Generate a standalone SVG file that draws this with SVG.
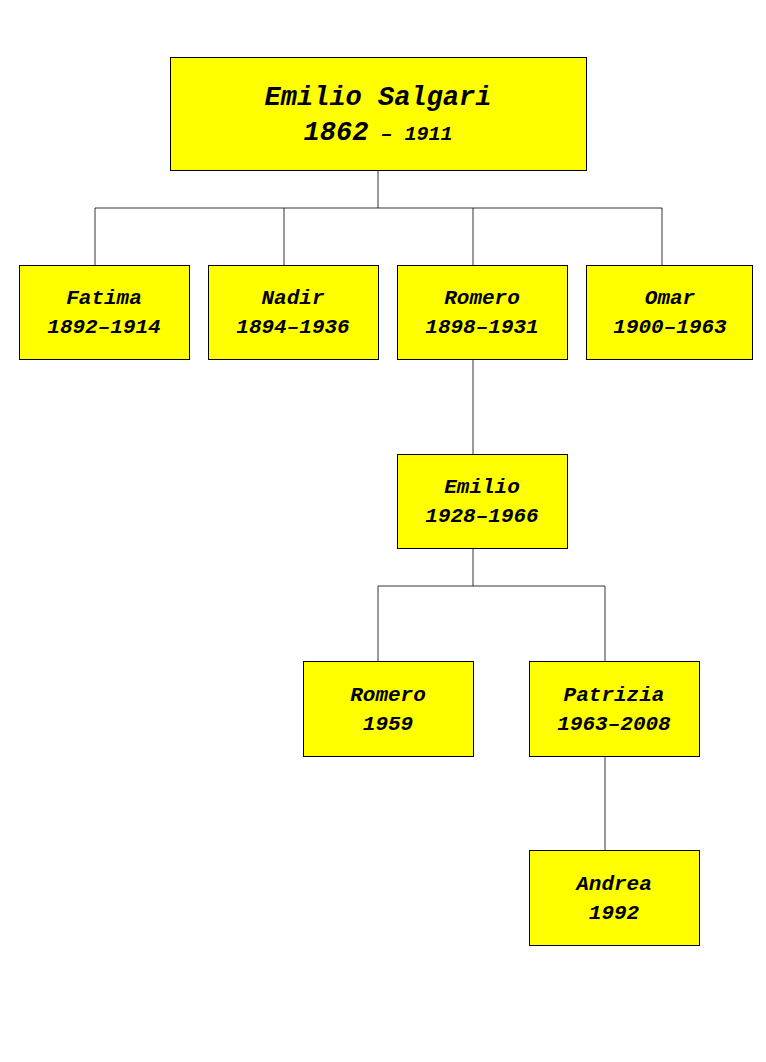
<svg xmlns="http://www.w3.org/2000/svg" width="766" height="1062" viewBox="0 0 766 1062">
<style>
.b{fill:#ffff00;stroke:#000;stroke-width:1}
text{font-family:"Liberation Mono","DejaVu Sans Mono",monospace;font-weight:bold;font-style:italic;text-anchor:middle;fill:#000}
.t{font-size:21px}
.c line{stroke:#000;stroke-width:0.8}
</style>
<rect width="766" height="1062" fill="#fff"/>
<g class="c">
<line x1="378" y1="170" x2="378" y2="208"/>
<line x1="95" y1="208" x2="662" y2="208"/>
<line x1="95" y1="208" x2="95" y2="265"/>
<line x1="284" y1="208" x2="284" y2="265"/>
<line x1="473" y1="208" x2="473" y2="265"/>
<line x1="662" y1="208" x2="662" y2="265"/>
<line x1="473" y1="359" x2="473" y2="454"/>
<line x1="473" y1="548" x2="473" y2="586"/>
<line x1="378" y1="586" x2="605" y2="586"/>
<line x1="378" y1="586" x2="378" y2="661"/>
<line x1="605" y1="586" x2="605" y2="661"/>
<line x1="605" y1="756" x2="605" y2="850"/>
</g>
<g id="root"><rect class="b" x="170.5" y="57.5" width="416" height="113"/>
<text x="378" y="105" font-size="27">Emilio Salgari</text>
<text x="378" y="140"><tspan font-size="27">1862</tspan><tspan font-size="20"> – 1911</tspan></text></g>
<g id="fatima"><rect class="b" x="19.5" y="265.5" width="170" height="94"/><text class="t" x="104" y="304">Fatima</text><text class="t" x="104" y="333">1892–1914</text></g>
<g id="nadir"><rect class="b" x="208.5" y="265.5" width="170" height="94"/><text class="t" x="293" y="304">Nadir</text><text class="t" x="293" y="333">1894–1936</text></g>
<g id="romero1"><rect class="b" x="397.5" y="265.5" width="170" height="94"/><text class="t" x="482" y="304">Romero</text><text class="t" x="482" y="333">1898–1931</text></g>
<g id="omar"><rect class="b" x="586.5" y="265.5" width="166" height="94"/><text class="t" x="670" y="304">Omar</text><text class="t" x="670" y="333">1900–1963</text></g>
<g id="emilio"><rect class="b" x="397.5" y="454.5" width="170" height="94"/><text class="t" x="482" y="493">Emilio</text><text class="t" x="482" y="522">1928–1966</text></g>
<g id="romero2"><rect class="b" x="303.5" y="661.5" width="170" height="95"/><text class="t" x="388" y="701">Romero</text><text class="t" x="388" y="730">1959</text></g>
<g id="patrizia"><rect class="b" x="529.5" y="661.5" width="170" height="95"/><text class="t" x="614" y="701">Patrizia</text><text class="t" x="614" y="730">1963–2008</text></g>
<g id="andrea"><rect class="b" x="529.5" y="850.5" width="170" height="95"/><text class="t" x="614" y="890">Andrea</text><text class="t" x="614" y="919">1992</text></g>
</svg>
